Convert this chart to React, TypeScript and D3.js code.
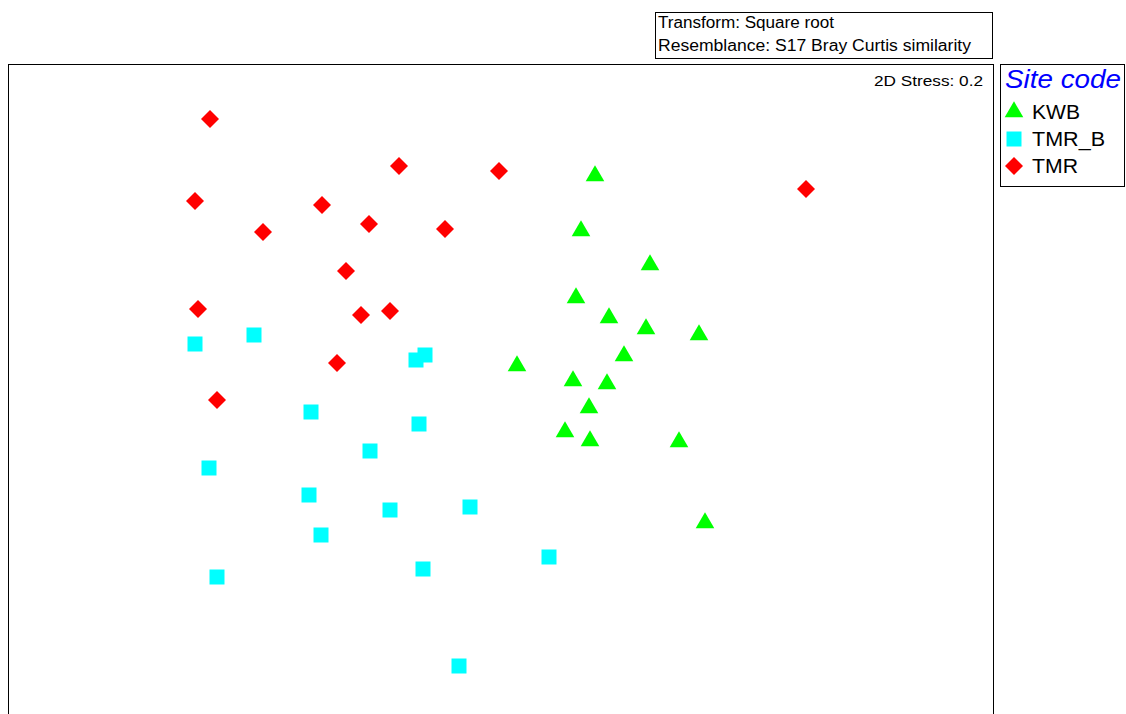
import React from "react";
import * as d3 from "d3";

// MDS coordinates (arbitrary units)
const kwbX = [0.95, 0.81, 1.5, 0.76, 1.09, 1.46, 1.99, 1.24, 0.17, 0.73, 1.07, 0.89, 0.65, 0.9, 1.79, 2.05];
const kwbY = [2.05, 1.50, 1.16, 0.83, 0.63, 0.52, 0.46, 0.25, 0.15, 0.0, -0.03, -0.27, -0.51, -0.60, -0.61, -1.42];

const tmrbX = [-3.05, -2.46, -0.75, -0.84, -1.89, -0.81, -1.3, -2.91, -1.91, -1.1, -0.3, -1.79, 0.49, -2.83, -0.77, -0.41];
const tmrbY = [0.37, 0.46, 0.26, 0.21, -0.31, -0.43, -0.70, -0.87, -1.14, -1.29, -1.26, -1.54, -1.76, -1.96, -1.88, -2.85];

const tmrX = [-2.9, -1.01, -0.01, 3.06, -3.05, -1.78, -1.31, -0.55, -2.37, -1.54, -3.02, -1.1, -1.39, -1.63, -2.83];
const tmrY = [2.62, 2.15, 2.1, 1.92, 1.8, 1.76, 1.57, 1.52, 1.49, 1.1, 0.72, 0.7, 0.66, 0.18, -0.19];

const legendLabels = ["KWB", "TMR_B", "TMR"];
const headerLines = ["Transform: Square root", "Resemblance: S17 Bray Curtis similarity"];
const stressLabel = "2D Stress: 0.2";
const legendTitle = "Site code";

const W = 1126;
const H = 714;
const frame = { x: 8.5, y: 64.5, w: 985, h: 700 };

const xScale = d3.scaleLinear().domain([-4.92, 4.93]).range([8, 993]);
const yScale = d3.scaleLinear().domain([3.16, -3.34]).range([65, 715]);

const FONT = "'Liberation Sans', Arial, sans-serif";

const triPath = d3.symbol().type(d3.symbolTriangle).size(150)() as string;
const sqPath = d3.symbol().type(d3.symbolSquare).size(225)() as string;
const diaPath = "M0,-9L9,0L0,9L-9,0Z";

function Tri({ x, y }: { x: number; y: number }) {
  return <path d={triPath} transform={`translate(${x},${y})`} fill="#00ff00" />;
}
function Sq({ x, y }: { x: number; y: number }) {
  return <path d={sqPath} transform={`translate(${x},${y})`} fill="#00ffff" />;
}
function Dia({ x, y }: { x: number; y: number }) {
  return <path d={diaPath} transform={`translate(${x},${y})`} fill="#ff0000" />;
}

export default function App() {
  return (
    <svg
      width={W}
      height={H}
      style={{ position: "absolute", left: 0, top: 0, background: "#fff" }}
      fontFamily={FONT}
    >
      {/* header box */}
      <rect x={655.5} y={12.5} width={337} height={46} fill="#fff" stroke="#000" strokeWidth={1} />
      <text x={658} y={28} fontSize={16} fill="#000" textLength={176} lengthAdjust="spacingAndGlyphs">
        {headerLines[0]}
      </text>
      <text x={658} y={51} fontSize={16} fill="#000" textLength={313} lengthAdjust="spacingAndGlyphs">
        {headerLines[1]}
      </text>

      {/* plot frame */}
      <rect x={frame.x} y={frame.y} width={frame.w} height={frame.h} fill="none" stroke="#000" strokeWidth={1} />
      <text x={874} y={86} fontSize={15.5} fill="#000" textLength={109} lengthAdjust="spacingAndGlyphs">
        {stressLabel}
      </text>

      {/* points */}
      {tmrbX.map((v, i) => (
        <Sq key={"s" + i} x={xScale(v)} y={yScale(tmrbY[i])} />
      ))}
      {tmrX.map((v, i) => (
        <Dia key={"d" + i} x={xScale(v)} y={yScale(tmrY[i])} />
      ))}
      {kwbX.map((v, i) => (
        <Tri key={"t" + i} x={xScale(v)} y={yScale(kwbY[i])} />
      ))}

      {/* legend */}
      <rect x={1000.5} y={64.5} width={124} height={122} fill="#fff" stroke="#000" strokeWidth={1} />
      <text x={1005} y={88} fontSize={25} fontStyle="italic" fill="#0000ff" textLength={116} lengthAdjust="spacingAndGlyphs">
        {legendTitle}
      </text>
      {legendLabels.map((lab, i) => {
        const cy = 112 + i * 27;
        const lens = [48, 73, 46];
        return (
          <g key={lab}>
            {i === 0 && <Tri x={1014} y={cy} />}
            {i === 1 && <Sq x={1014} y={cy} />}
            {i === 2 && <Dia x={1014} y={cy} />}
            <text x={1032} y={cy + 7} fontSize={19.5} fill="#000" textLength={lens[i]} lengthAdjust="spacingAndGlyphs">
              {lab}
            </text>
          </g>
        );
      })}
    </svg>
  );
}
